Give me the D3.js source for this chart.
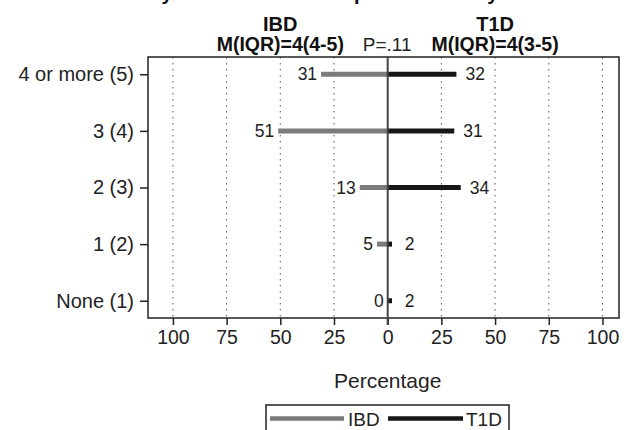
<!DOCTYPE html>
<html>
<head>
<meta charset="utf-8">
<script src="https://cdn.jsdelivr.net/npm/d3@7"></script>
<style>
  html, body { margin: 0; padding: 0; background: #fff; }
  svg { display: block; font-family: "Liberation Sans", Arial, sans-serif; }
</style>
</head>
<body>
<svg id="chart" width="627" height="430"></svg>
<script>
// ---- data ----
const categories = ["None (1)", "1 (2)", "2 (3)", "3 (4)", "4 or more (5)"];
const categoryLevels = [1, 2, 3, 4, 5];
const ibdValues = [0, 5, 13, 51, 31];
const t1dValues = [2, 2, 34, 31, 32];
const xTickValues = [-100, -75, -50, -25, 0, 25, 50, 75, 100];
const seriesNames = ["IBD", "T1D"];
const groupHeaders = ["IBD", "T1D"];
const medianLabels = ["M(IQR)=4(4-5)", "M(IQR)=4(3-5)"];
const pValueLabel = "P=.11";
const titleText = "Many close friends as reported in study";
const xAxisTitle = "Percentage";

// ---- layout ----
const svg = d3.select("#chart");
const box = { left: 148, right: 619, top: 57, bottom: 318 };
const colors = { IBD: "#7b7b7b", T1D: "#161616" };

const x = d3.scaleLinear().domain([-111.6, 107.7]).range([box.left, box.right]);
const y = d3.scaleLinear().domain([0.695, 5.305]).range([box.bottom, box.top]);

// title (cut off at top, as in the reference)
svg.append("text").attr("x", 310).attr("y", -0.5).attr("text-anchor", "middle")
  .attr("font-size", 20).attr("font-weight", "bold").attr("fill", "#111").text(titleText);

// group headers
[-50, 50].forEach((v, i) => {
  svg.append("text").attr("x", x(v)).attr("y", 31).attr("text-anchor", "middle")
    .attr("font-size", 20).attr("font-weight", "bold").attr("fill", "#111").text(groupHeaders[i]);
  svg.append("text").attr("x", x(v)).attr("y", 51).attr("text-anchor", "middle")
    .attr("font-size", 19.5).attr("font-weight", "bold").attr("fill", "#111").text(medianLabels[i]);
});
svg.append("text").attr("x", x(0) - 0.5).attr("y", 51).attr("text-anchor", "middle")
  .attr("font-size", 19).attr("fill", "#222").text(pValueLabel);

// gridlines
svg.append("g").selectAll("line").data(xTickValues.filter(d => d !== 0)).join("line")
  .attr("x1", d => x(d)).attr("x2", d => x(d))
  .attr("y1", box.top).attr("y2", box.bottom)
  .attr("stroke", "#666").attr("stroke-width", 1.1).attr("stroke-dasharray", "1.4,4.6");

// x axis
const xAxis = d3.axisBottom(x).tickValues(xTickValues).tickSize(7).tickPadding(5)
  .tickFormat(d => Math.abs(d));
const gx = svg.append("g").attr("transform", `translate(0,${box.bottom})`).call(xAxis);
gx.select(".domain").remove();
gx.selectAll(".tick line").attr("stroke", "#222").attr("stroke-width", 1.5);
gx.selectAll(".tick text").attr("font-size", 19.5).attr("fill", "#222")
  .attr("font-family", "Liberation Sans, Arial, sans-serif");

// y axis
const yAxis = d3.axisLeft(y).tickValues(categoryLevels).tickSize(8).tickPadding(6)
  .tickFormat(d => categories[categoryLevels.indexOf(d)]);
const gy = svg.append("g").attr("transform", `translate(${box.left},0)`).call(yAxis);
gy.select(".domain").remove();
gy.selectAll(".tick line").attr("stroke", "#222").attr("stroke-width", 1.5);
gy.selectAll(".tick text").attr("font-size", 20).attr("fill", "#222")
  .attr("font-family", "Liberation Sans, Arial, sans-serif");

// plot box
svg.append("rect").attr("x", box.left).attr("y", box.top)
  .attr("width", box.right - box.left).attr("height", box.bottom - box.top)
  .attr("fill", "none").attr("stroke", "#222").attr("stroke-width", 1.5);

// bars
const rows = categoryLevels.map((lv, i) => ({ lv, ibd: ibdValues[i], t1d: t1dValues[i] }));
svg.append("g").selectAll("line").data(rows).join("line")
  .attr("x1", d => x(-d.ibd)).attr("x2", x(0))
  .attr("y1", d => y(d.lv)).attr("y2", d => y(d.lv))
  .attr("stroke", colors.IBD).attr("stroke-width", 5);
svg.append("g").selectAll("line").data(rows).join("line")
  .attr("x1", x(0)).attr("x2", d => x(d.t1d))
  .attr("y1", d => y(d.lv)).attr("y2", d => y(d.lv))
  .attr("stroke", colors.T1D).attr("stroke-width", 5);

// zero line
svg.append("line").attr("x1", x(0)).attr("x2", x(0))
  .attr("y1", box.top).attr("y2", box.bottom + 7)
  .attr("stroke", "#444").attr("stroke-width", 2);

// value labels
svg.append("g").selectAll("text").data(rows).join("text")
  .attr("x", d => x(-d.ibd) - 4).attr("y", d => y(d.lv) + 6)
  .attr("text-anchor", "end").attr("font-size", 17.5).attr("fill", "#222")
  .text(d => d.ibd);
svg.append("g").selectAll("text").data(rows).join("text")
  .attr("x", d => Math.max(x(d.t1d) + 9, x(0) + 17)).attr("y", d => y(d.lv) + 6)
  .attr("text-anchor", "start").attr("font-size", 17.5).attr("fill", "#222")
  .text(d => d.t1d);

// axis title
svg.append("text").attr("x", x(0)).attr("y", 388).attr("text-anchor", "middle")
  .attr("font-size", 21).attr("fill", "#222").text(xAxisTitle);

// legend
const lg = svg.append("g");
lg.append("rect").attr("x", 266).attr("y", 405).attr("width", 243).attr("height", 27)
  .attr("fill", "#fff").attr("stroke", "#222").attr("stroke-width", 1.5);
const legendItems = [
  { name: seriesNames[0], x1: 270, x2: 344, tx: 348 },
  { name: seriesNames[1], x1: 388, x2: 463, tx: 466 }
];
legendItems.forEach(it => {
  lg.append("line").attr("x1", it.x1).attr("x2", it.x2).attr("y1", 418.5).attr("y2", 418.5)
    .attr("stroke", colors[it.name]).attr("stroke-width", 4.5);
  lg.append("text").attr("x", it.tx).attr("y", 426).attr("font-size", 19).attr("fill", "#222").text(it.name);
});
</script>
</body>
</html>
